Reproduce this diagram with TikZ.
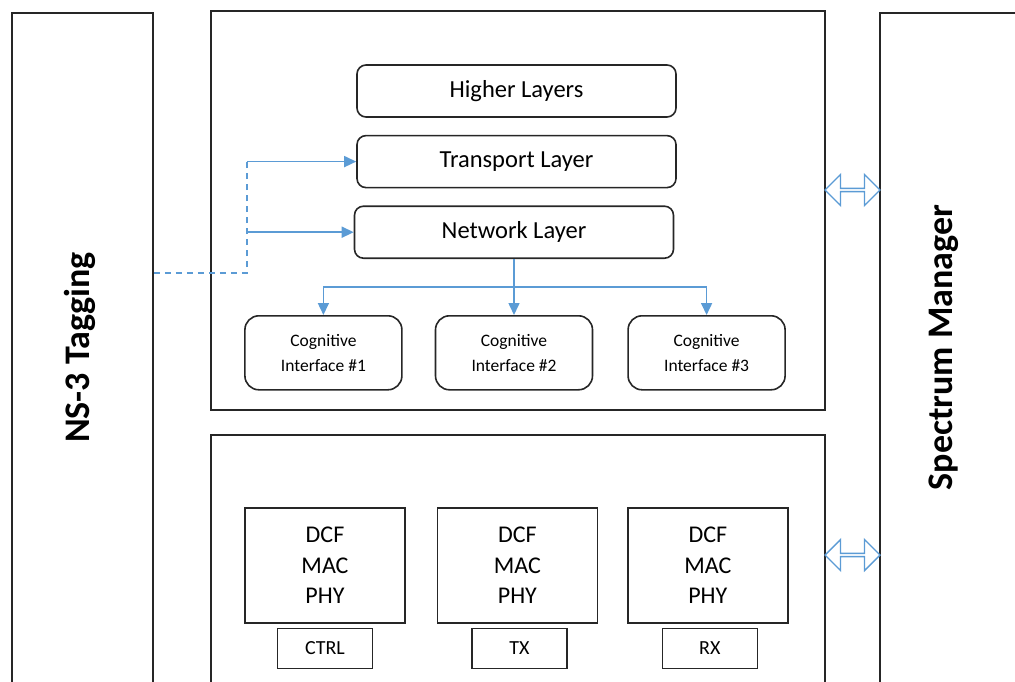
\documentclass[tikz,border=0pt]{standalone}
\usepackage{fontspec}
\setmainfont{Carlito}
\usetikzlibrary{arrows.meta,positioning,shapes.arrows}
\definecolor{link}{HTML}{5B9BD5}
\tikzset{
    %Define standard arrow tip
    >={Triangle[length=12pt,width=11pt]},
    %Define style for the outer frames
    frame/.style={
           rectangle,
           draw=black!85, line width=1.6pt,
           inner sep=0pt},
    %Define style for the layer boxes
    layer/.style={
           rectangle,
           rounded corners=9pt,
           draw=black!85, line width=1.6pt,
           minimum width=319pt,
           minimum height=52pt,
           font=\fontsize{24.5}{29}\selectfont,
           text centered},
    cogbox/.style={
           rectangle,
           rounded corners=14pt,
           draw=black!85, line width=1.6pt,
           minimum width=157pt,
           minimum height=74pt,
           align=center,
           font=\fontsize{17.5}{25}\selectfont},
    phybox/.style={
           rectangle,
           draw=black!85, line width=1.4pt,
           minimum width=160pt,
           minimum height=115pt,
           align=center,
           font=\fontsize{24}{30.5}\selectfont},
    portbox/.style={
           rectangle,
           draw=black!85, line width=1.4pt,
           minimum width=95pt,
           minimum height=40pt,
           font=\fontsize{20}{24}\selectfont},
    side/.style={
           rotate=90,
           font=\bfseries\fontsize{36}{40}\selectfont},
    % Define arrow style
    pil/.style={
           ->,
           draw=link,
           line width=1.6pt},
    biarrow/.style={
           double arrow,
           draw=link, fill=white, line width=1.4pt,
           minimum height=55pt,
           minimum width=31pt,
           double arrow head extend=6pt,
           inner sep=0pt}
}

\begin{document}
\begin{tikzpicture}[x=1pt,y=-1pt]
\clip (0,0) rectangle (1015,682);
% outer frames
\node[frame, minimum width=141pt, minimum height=677pt](tag) at (82.5,351.5){};
\node[side](tagtext) at (80,347.5){NS-3 Tagging};
\node[frame, minimum width=150pt, minimum height=677pt](spec) at (955,351.5){};
\node[side](spectext) at (944,347.5){Spectrum Manager};
\node[frame, minimum width=614pt, minimum height=399pt](upper) at (518,210.5){};
\node[frame, minimum width=614pt, minimum height=260pt](lower) at (518,565){};
% upper stack
\node[layer](high) at (516.5,91){Higher Layers};
\node[layer, below=17pt of high](trans){Transport Layer};
\node[layer, below=17pt of trans, xshift=-2.5pt](net){Network Layer};
\node[cogbox, below=56pt of net](cog2){Cognitive\\Interface \#2};
\node[cogbox, left=32pt of cog2](cog1){Cognitive\\Interface \#1};
\node[cogbox, right=34pt of cog2](cog3){Cognitive\\Interface \#3};
% lower stack
\node[phybox](phy1) at (325,565.5){DCF\\MAC\\PHY};
\node[phybox, right=31pt of phy1](phy2){DCF\\MAC\\PHY};
\node[phybox, right=29pt of phy2](phy3){DCF\\MAC\\PHY};
\node[portbox, below=4pt of phy1](ctrl){CTRL};
\node[portbox, below=4pt of phy2, xshift=2pt](tx){TX};
\node[portbox, below=4pt of phy3, xshift=2pt](rx){RX};
% links to the spectrum manager
\node[biarrow](upbi) at (852.5,190){};
\node[biarrow](lowbi) at (852.5,555){};
% tagging path
\coordinate (tap) at (247,273);
\draw[draw=link, line width=1.6pt, dash pattern=on 6pt off 5pt] (tap -| tag.east) -- (tap) -- (tap |- trans.west);
\draw[pil] (tap |- trans.west) -- (trans.west);
\draw[pil] (tap |- net.west) -- (net.west);
% network layer to interfaces
\coordinate (split) at (net.south |- 0,287);
\draw[pil] (net.south) -- (net.south |- cog2.north);
\draw[pil] (split) -| (cog1.north);
\draw[pil] (split) -| (cog3.north);
\end{tikzpicture}
\end{document}
